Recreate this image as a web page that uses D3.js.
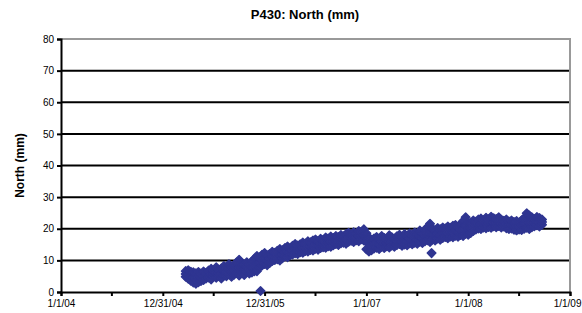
<!DOCTYPE html>
<html lang="en">
<head>
<meta charset="UTF-8">
<title>P430: North (mm)</title>
<script src="https://d3js.org/d3.v7.min.js"></script>
<style>
  body { margin: 0; background: #fff; font-family: "Liberation Sans", Arial, sans-serif; }
  svg { display: block; }
</style>
</head>
<body>
<div id="chart"></div>
<script>
// decimal year, then low/mid/high observations at that epoch
const epochs = [
  2005.225,2005.250,2005.275,2005.300,2005.325,2005.350,2005.375,2005.400,2005.425,2005.450,
  2005.475,2005.500,2005.525,2005.550,2005.575,2005.600,2005.625,2005.650,2005.675,2005.700,
  2005.725,2005.750,2005.775,2005.800,2005.825,2005.850,2005.875,2005.900,2005.925,2005.950,
  2005.975,2006.000,2006.025,2006.050,2006.075,2006.100,2006.125,2006.150,2006.175,2006.200,
  2006.225,2006.250,2006.275,2006.300,2006.325,2006.350,2006.375,2006.400,2006.425,2006.450,
  2006.475,2006.500,2006.525,2006.550,2006.575,2006.600,2006.625,2006.650,2006.675,2006.700,
  2006.725,2006.750,2006.775,2006.800,2006.825,2006.850,2006.875,2006.900,2006.925,2006.950,
  2006.975,2007.000,2007.025,2007.050,2007.075,2007.100,2007.125,2007.150,2007.175,2007.200,
  2007.225,2007.250,2007.275,2007.300,2007.325,2007.350,2007.375,2007.400,2007.425,2007.450,
  2007.475,2007.500,2007.525,2007.550,2007.575,2007.600,2007.625,2007.650,2007.675,2007.700,
  2007.725,2007.750,2007.775,2007.800,2007.825,2007.850,2007.875,2007.900,2007.925,2007.950,
  2007.975,2008.000,2008.025,2008.050,2008.075,2008.100,2008.125,2008.150,2008.175,2008.200,
  2008.225,2008.250,2008.275,2008.300,2008.325,2008.350,2008.375,2008.400,2008.425,2008.450,
  2008.475,2008.500,2008.525,2008.550,2008.575,2008.600,2008.625,2008.650,2008.675,2008.700,
  2008.725
];
const northLow = [
  4.8,4.2,3.6,3.0,2.6,3.1,3.5,3.8,4.3,4.6,
  4.0,4.9,4.5,5.1,4.3,5.3,5.0,5.6,4.8,5.5,
  6.0,5.2,6.3,5.4,6.5,5.9,6.2,6.6,6.6,7.8,
  8.4,8.9,8.5,9.2,9.8,10.1,10.4,10.0,10.7,11.3,
  11.0,11.6,11.9,12.3,12.0,12.6,12.4,13.0,12.8,13.3,
  13.1,13.7,13.4,13.9,14.2,14.0,14.5,14.3,14.8,15.2,
  14.9,15.4,15.6,15.3,15.9,16.2,15.8,16.4,16.1,16.7,
  16.3,13.5,12.8,13.2,13.8,14.0,13.6,14.3,13.9,14.5,
  14.1,14.7,14.3,14.9,15.2,14.6,15.0,14.8,15.4,15.1,
  15.6,15.3,15.9,15.5,16.1,16.4,15.8,16.6,16.3,16.9,
  16.5,17.1,17.4,17.0,17.6,17.3,17.8,17.5,18.0,17.7,
  18.4,18.1,18.7,19.3,19.8,20.1,19.9,20.4,20.2,20.6,
  20.3,20.8,20.5,20.9,20.4,20.7,20.2,19.9,20.1,19.7,
  19.5,19.8,19.6,20.0,20.3,19.9,20.5,20.8,21.1,20.7,
  21.3
];
const northMid = [
  5.7,5.5,5.0,4.6,4.2,4.7,4.6,5.1,5.2,5.7,
  5.6,5.8,6.1,6.0,5.8,6.7,6.3,7.2,6.3,7.0,
  7.6,7.7,7.6,7.0,8.0,7.3,7.9,8.5,9.0,9.3,
  10.1,10.6,10.0,10.6,11.2,11.2,11.7,11.8,11.9,12.6,
  12.7,12.7,13.2,13.7,13.3,13.8,14.0,14.1,14.4,14.5,
  14.7,15.1,14.7,15.3,15.3,15.6,15.7,15.9,15.9,16.4,
  16.1,16.7,16.6,16.8,17.3,17.2,17.3,17.4,17.7,17.8,
  18.0,16.0,15.0,14.8,15.3,15.7,15.2,16.0,15.5,15.5,
  16.0,16.0,15.5,16.2,16.6,16.0,16.6,16.2,16.9,16.5,
  17.2,16.7,17.6,17.0,17.9,18.4,18.7,18.3,17.9,18.5,
  18.1,18.7,18.7,18.8,19.0,19.1,19.5,19.0,19.7,20.0,
  21.0,20.0,20.2,20.9,21.0,21.5,21.5,21.5,21.8,21.8,
  22.0,22.0,21.8,22.2,21.6,21.6,21.5,21.1,21.3,20.9,
  20.9,20.9,21.1,21.7,22.6,22.0,22.0,22.0,22.4,22.0,
  22.1
];
const northHigh = [
  6.6,6.9,6.4,6.2,5.9,6.3,5.8,6.5,6.0,6.8,
  7.3,6.7,7.8,7.0,7.4,8.2,7.6,8.8,7.9,8.5,
  9.3,10.2,8.9,8.6,9.4,8.8,9.7,10.5,11.4,10.9,
  11.8,12.3,11.6,12.0,12.7,12.4,13.0,13.6,13.2,13.9,
  14.4,13.8,14.6,15.2,14.7,15.1,15.6,15.3,16.0,15.7,
  16.3,16.6,16.1,16.8,16.4,17.2,16.9,17.5,17.1,17.7,
  17.4,18.0,17.6,18.3,18.7,18.2,18.9,18.5,19.3,19.0,
  19.8,18.6,17.2,16.5,16.9,17.4,16.8,17.7,17.1,16.6,
  17.9,17.3,16.8,17.6,18.1,17.4,18.3,17.7,18.5,17.9,
  18.8,18.2,19.4,18.6,19.7,20.5,21.6,20.0,19.5,20.2,
  19.8,20.4,20.1,20.7,20.3,20.9,21.2,20.6,21.5,22.4,
  23.6,22.0,21.8,22.6,22.2,22.9,23.2,22.7,23.5,23.0,
  23.8,23.3,23.1,23.6,22.8,22.5,22.9,22.3,22.6,22.1,
  22.4,22.0,22.7,23.4,24.9,24.2,23.6,23.1,23.7,23.4,
  22.9
];
const outlierEpochs = [2005.960, 2007.640];
const outlierNorth = [0.3, 12.3];

const yTicks = [0, 10, 20, 30, 40, 50, 60, 70, 80];
const xTicks = [2004, 2005, 2006, 2007, 2008, 2009];
const xTickLabels = ["1/1/04", "12/31/04", "12/31/05", "1/1/07", "1/1/08", "1/1/09"];
const xMinorTicks = [2004.5, 2005.5, 2006.5, 2007.5, 2008.5];

const W = 582, H = 313;
const m = { left: 61, right: 12, top: 39, bottom: 21 };
const iw = W - m.left - m.right, ih = H - m.top - m.bottom;

const svg = d3.select("#chart").append("svg").attr("width", W).attr("height", H);

const x = d3.scaleLinear().domain([2004, 2009]).range([m.left, m.left + iw]);
const y = d3.scaleLinear().domain([0, 80]).range([m.top + ih, m.top]);

// gridlines
svg.append("g").selectAll("line")
  .data(yTicks.filter(d => d > 0 && d < 80))
  .enter().append("line")
  .attr("x1", m.left).attr("x2", m.left + iw)
  .attr("y1", d => y(d)).attr("y2", d => y(d))
  .attr("stroke", "#000").attr("stroke-width", 2);

// top and right border
svg.append("path")
  .attr("d", `M${m.left},${y(80)}H${m.left + iw}V${y(0)}`)
  .attr("fill", "none").attr("stroke", "#999").attr("stroke-width", 2);

// y axis
const yAxis = svg.append("g").attr("transform", `translate(${m.left},0)`)
  .call(d3.axisLeft(y).tickValues(yTicks).tickSize(4).tickPadding(3));
yAxis.select(".domain").attr("stroke-width", 2);
yAxis.selectAll(".tick line").attr("stroke-width", 2);
yAxis.selectAll("text").style("font-size", "10px").style("font-family", "Liberation Sans, Arial, sans-serif");

// x axis
const xAxis = svg.append("g").attr("transform", `translate(0,${y(0)})`)
  .call(d3.axisBottom(x).tickValues(xTicks).tickFormat((d, i) => xTickLabels[i]).tickSize(4).tickPadding(4));
xAxis.select(".domain").attr("stroke-width", 2);
xAxis.selectAll(".tick line").attr("stroke-width", 2);
xAxis.selectAll("text").style("font-size", "10px").style("font-family", "Liberation Sans, Arial, sans-serif");
xAxis.selectAll(".tick").filter(d => d === 2009).select("text")
  .attr("text-anchor", "end").attr("dx", 11);
svg.append("g").selectAll("line").data(xMinorTicks).enter().append("line")
  .attr("x1", d => x(d)).attr("x2", d => x(d))
  .attr("y1", y(0)).attr("y2", y(0) + 4)
  .attr("stroke", "#000").attr("stroke-width", 2);

// points
const pts = [];
epochs.forEach((t, i) => {
  pts.push([t, northLow[i]]);
  pts.push([t, northMid[i]]);
  pts.push([t, northHigh[i]]);
});
outlierEpochs.forEach((t, i) => pts.push([t, outlierNorth[i]]));

const r = 4.3;
svg.append("g").selectAll("path").data(pts).enter().append("path")
  .attr("d", `M0,${-r}L${r},0L0,${r}L${-r},0Z`)
  .attr("transform", d => `translate(${x(d[0])},${y(d[1])})`)
  .attr("fill", "#2f3591")
  .attr("stroke", "#2f3591").attr("stroke-width", 1.4).attr("stroke-linejoin", "round");

// title
svg.append("text").attr("x", 305).attr("y", 19).attr("text-anchor", "middle")
  .style("font-size", "13px").style("font-weight", "bold")
  .text("P430: North (mm)");

svg.append("text")
  .attr("transform", `translate(24,${m.top + ih / 2}) rotate(-90)`)
  .attr("text-anchor", "middle")
  .style("font-size", "12px").style("font-weight", "bold")
  .text("North (mm)");
</script>
</body>
</html>
